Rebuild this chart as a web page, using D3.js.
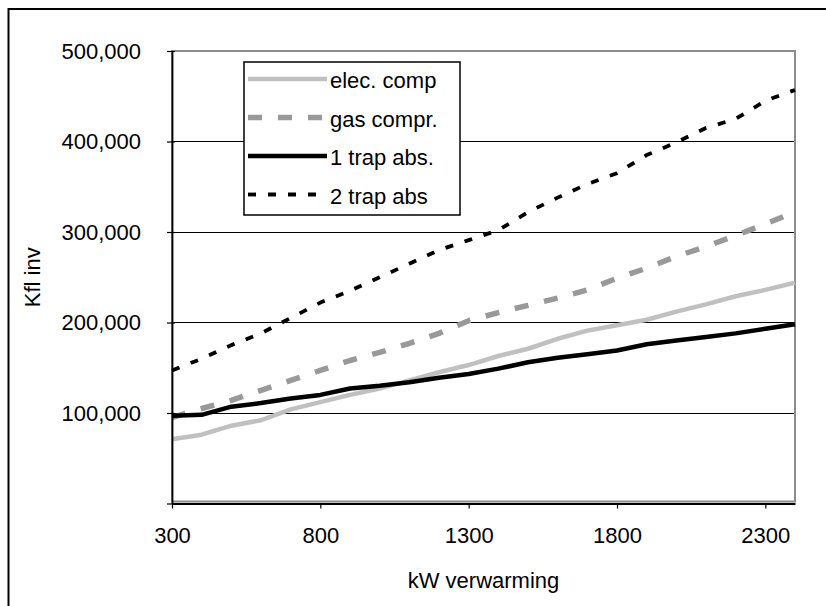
<!DOCTYPE html>
<html>
<head>
<meta charset="utf-8">
<script src="https://cdn.jsdelivr.net/npm/d3@7"></script>
<style>
  html, body { margin: 0; padding: 0; background: #fff; }
  svg { display: block; font-family: "Liberation Sans", Arial, sans-serif; }
</style>
</head>
<body>
<svg id="chart" width="826" height="606"></svg>
<script>
// ---- data ----
const kw = [300, 400, 500, 600, 700, 800, 900, 1000, 1100, 1200, 1300, 1400, 1500, 1600, 1700, 1800, 1900, 2000, 2100, 2200, 2300, 2400];
const elecComp = [71000, 76000, 86000, 92000, 104000, 112000, 120000, 127000, 136000, 145000, 153000, 163000, 171000, 182000, 191000, 197000, 203000, 212000, 220000, 229000, 236000, 244000];
const gasCompr = [95000, 105000, 114000, 125000, 136000, 147000, 158000, 167000, 177000, 188000, 202000, 211000, 219000, 227000, 236000, 249000, 260000, 273000, 284000, 296000, 309000, 322000];
const trap1Abs = [97000, 98000, 107000, 111000, 116000, 120000, 127000, 130000, 134000, 139000, 143000, 149000, 156000, 161000, 165000, 169000, 176000, 180000, 184000, 188000, 193000, 198000];
const trap2Abs = [147000, 160000, 175000, 188000, 205000, 222000, 235000, 250000, 265000, 280000, 291000, 302000, 322000, 338000, 353000, 365000, 385000, 399000, 415000, 425000, 445000, 457000];
const seriesNames = ["elec. comp", "gas compr.", "1 trap abs.", "2 trap abs"];
const xTicks = [300, 800, 1300, 1800, 2300];
const yTicks = [0, 100000, 200000, 300000, 400000, 500000];
const xTitle = "kW verwarming";
const yTitle = "Kfl inv";

const series = [
  { name: seriesNames[0], values: elecComp, color: "#c0c0c0", width: 4.5, dash: null },
  { name: seriesNames[1], values: gasCompr, color: "#999999", width: 5.5, dash: "14,16" },
  { name: seriesNames[2], values: trap1Abs, color: "#000000", width: 4.5, dash: null },
  { name: seriesNames[3], values: trap2Abs, color: "#000000", width: 3.8, dash: "8,12" }
];

// ---- layout ----
const svg = d3.select("#chart");
const plot = { left: 172, top: 51, right: 795, bottom: 503.5 };
const fontSize = 22;
const ff = "Liberation Sans, Arial, sans-serif";

// outer frame (extends beyond the canvas on the right and bottom)
svg.append("rect")
  .attr("x", 8.5).attr("y", 9).attr("width", 840).attr("height", 620)
  .attr("fill", "none").attr("stroke", "#000").attr("stroke-width", 2);

const x = d3.scaleLinear().domain([300, 2400]).range([plot.left, plot.right]);
const y = d3.scaleLinear().domain([0, 500000]).range([plot.bottom, plot.top]);

// gridlines
svg.append("g")
  .selectAll("line")
  .data(yTicks.filter(v => v > 0 && v < 500000))
  .join("line")
  .attr("x1", plot.left).attr("x2", plot.right)
  .attr("y1", d => Math.round(y(d)) + 0.5).attr("y2", d => Math.round(y(d)) + 0.5)
  .attr("stroke", "#000").attr("stroke-width", 1.2);

// plot area border (gray)
svg.append("rect")
  .attr("x", plot.left).attr("y", plot.top)
  .attr("width", plot.right - plot.left).attr("height", plot.bottom - 2 - plot.top)
  .attr("fill", "none").attr("stroke", "#8c8c8c").attr("stroke-width", 2);

// series lines
const line = d3.line()
  .x((d, i) => x(kw[i]))
  .y(d => y(d));

const gSeries = svg.append("g");
series.forEach(s => {
  gSeries.append("path")
    .datum(s.values)
    .attr("d", line)
    .attr("fill", "none")
    .attr("stroke", s.color)
    .attr("stroke-width", s.width)
    .attr("stroke-linejoin", "round")
    .attr("stroke-dasharray", s.dash);
});

// axes
const yAxis = d3.axisLeft(y).tickValues(yTicks)
  .tickFormat(d => d === 0 ? "" : d3.format(",")(d))
  .tickSizeInner(5).tickSizeOuter(0).tickPadding(26);
const gy = svg.append("g").attr("transform", `translate(${plot.left},0)`).call(yAxis);
gy.select(".domain").attr("stroke", "#000").attr("stroke-width", 1.8);
gy.selectAll(".tick line").attr("stroke", "#000").attr("stroke-width", 1.2).attr("x2", -5).attr("x1", 3);
gy.selectAll("text").attr("font-size", fontSize).attr("fill", "#000").attr("font-family", ff);

const xAxis = d3.axisBottom(x).tickValues(xTicks)
  .tickFormat(d3.format("d"))
  .tickSizeInner(5).tickSizeOuter(0).tickPadding(19);
const gx = svg.append("g").attr("transform", `translate(0,${plot.bottom})`).call(xAxis);
gx.select(".domain").attr("stroke", "#000").attr("stroke-width", 1.8);
gx.selectAll(".tick line").attr("stroke", "#000").attr("stroke-width", 1.2);
gx.selectAll("text").attr("font-size", fontSize).attr("fill", "#000").attr("font-family", ff);

// axis titles
svg.append("text")
  .attr("x", (plot.left + plot.right) / 2).attr("y", 588)
  .attr("text-anchor", "middle").attr("font-size", fontSize).attr("fill", "#000")
  .text(xTitle);
svg.append("text")
  .attr("transform", `translate(40,${(plot.top + plot.bottom) / 2}) rotate(-90)`)
  .attr("text-anchor", "middle").attr("font-size", fontSize).attr("fill", "#000")
  .text(yTitle);

// legend
const lg = svg.append("g");
lg.append("rect")
  .attr("x", 244).attr("y", 62).attr("width", 216).attr("height", 153)
  .attr("fill", "#fff").attr("stroke", "#000").attr("stroke-width", 1.5);
series.forEach((s, i) => {
  const ly = 79 + i * 38.5;
  lg.append("line")
    .attr("x1", 248).attr("x2", 327).attr("y1", ly).attr("y2", ly)
    .attr("stroke", s.color).attr("stroke-width", s.width)
    .attr("stroke-dasharray", s.dash);
  lg.append("text")
    .attr("x", 330).attr("y", ly + 9)
    .attr("font-size", fontSize).attr("fill", "#000")
    .text(s.name);
});
</script>
</body>
</html>
